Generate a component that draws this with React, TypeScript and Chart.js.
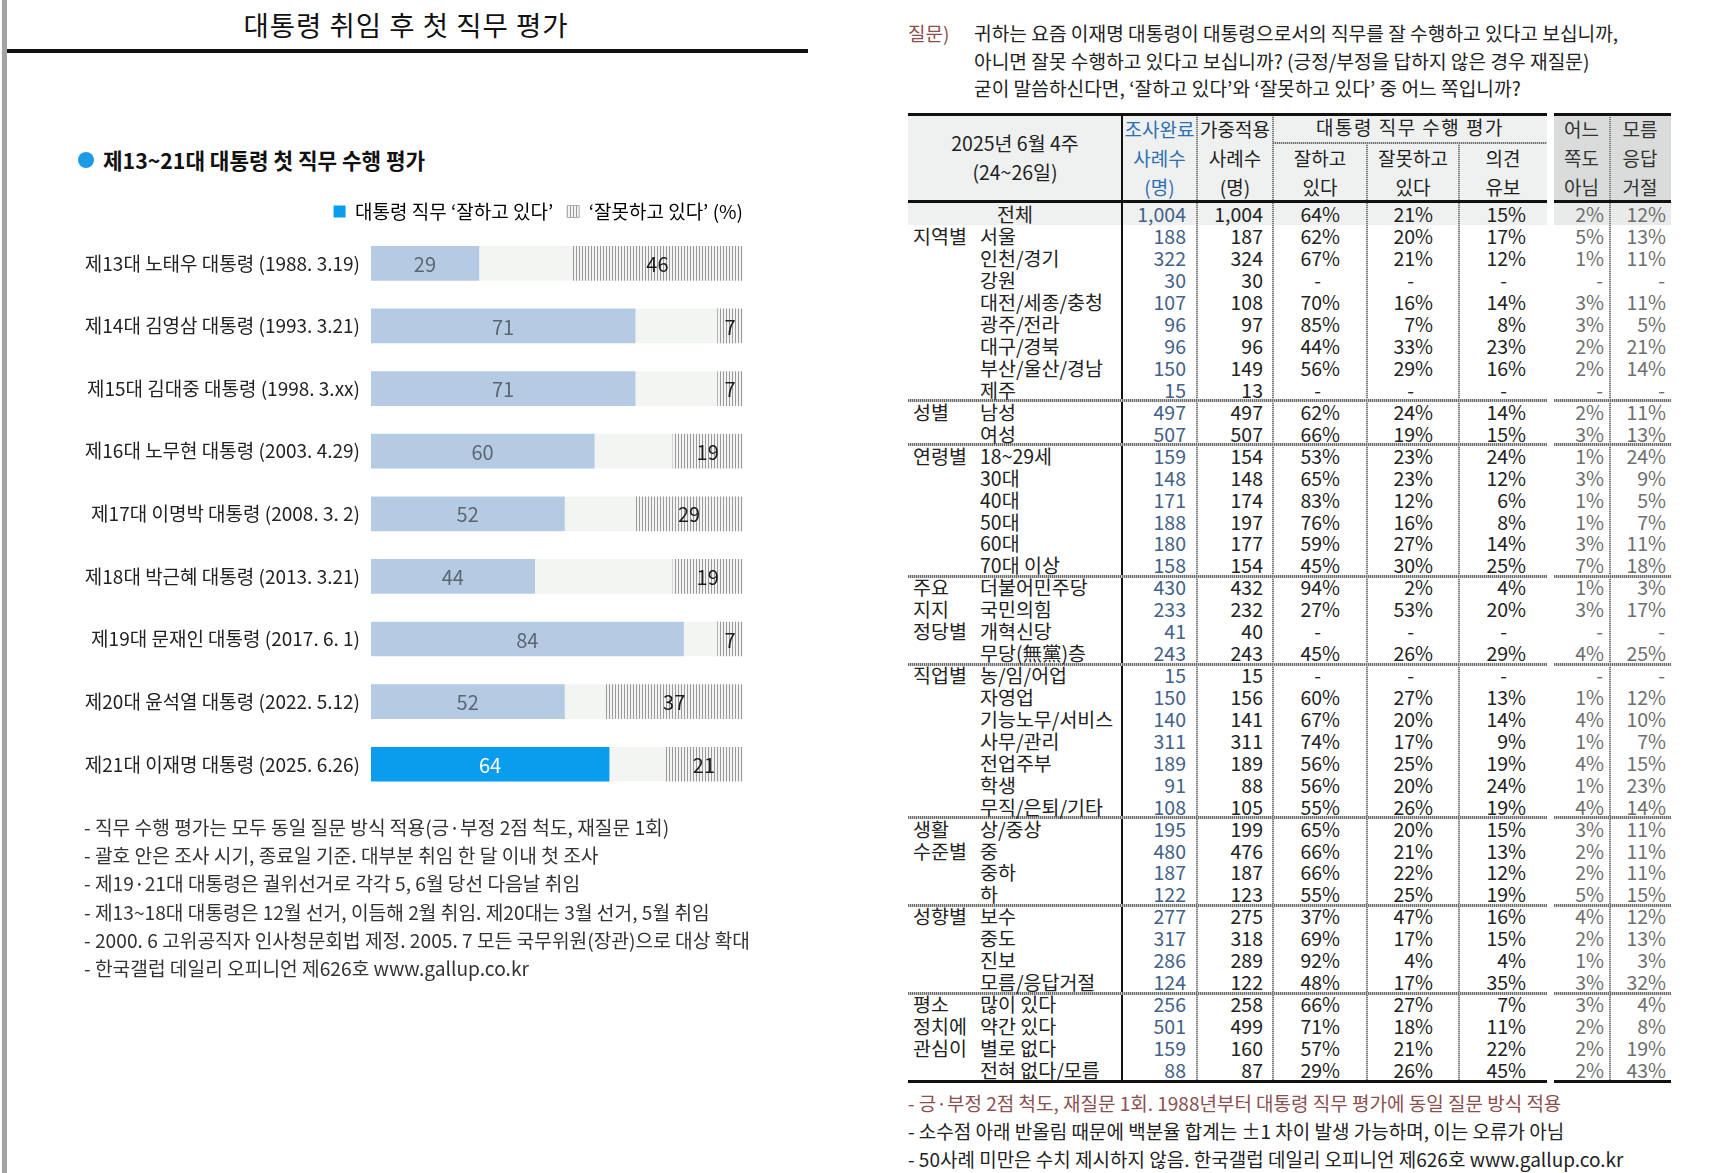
import React, { useEffect, useRef } from 'react';
import { Chart, registerables } from 'chart.js';

Chart.register(...registerables);

const FONT = '"Noto Sans CJK KR", "Noto Sans", sans-serif';

// ---- Chart data: first job-approval rating of each president ----
const presidents = [
  '제13대 노태우 대통령 (1988. 3.19)',
  '제14대 김영삼 대통령 (1993. 3.21)',
  '제15대 김대중 대통령 (1998. 3.xx)',
  '제16대 노무현 대통령 (2003. 4.29)',
  '제17대 이명박 대통령 (2008. 3. 2)',
  '제18대 박근혜 대통령 (2013. 3.21)',
  '제19대 문재인 대통령 (2017. 6. 1)',
  '제20대 윤석열 대통령 (2022. 5.12)',
  '제21대 이재명 대통령 (2025. 6.26)',
];
const approve = [29, 71, 71, 60, 52, 44, 84, 52, 64];
const disapprove = [46, 7, 7, 19, 29, 19, 7, 37, 21];

const notes = [
  '- 직무 수행 평가는 모두 동일 질문 방식 적용(긍·부정 2점 척도, 재질문 1회)',
  '- 괄호 안은 조사 시기, 종료일 기준. 대부분 취임 한 달 이내 첫 조사',
  '- 제19·21대 대통령은 궐위선거로 각각 5, 6월 당선 다음날 취임',
  '- 제13~18대 대통령은 12월 선거, 이듬해 2월 취임. 제20대는 3월 선거, 5월 취임',
  '- 2000. 6 고위공직자 인사청문회법 제정. 2005. 7 모든 국무위원(장관)으로 대상 확대',
  '- 한국갤럽 데일리 오피니언 제626호 www.gallup.co.kr',
];

// ---- Table data: 2025년 6월 4주 ----
const questionLines = [
  '귀하는 요즘 이재명 대통령이 대통령으로서의 직무를 잘 수행하고 있다고 보십니까,',
  '아니면 잘못 수행하고 있다고 보십니까? (긍정/부정을 답하지 않은 경우 재질문)',
  '굳이 말씀하신다면, ‘잘하고 있다’와 ‘잘못하고 있다’ 중 어느 쪽입니까?',
];
const totalRow = [1004, 1004, 64, 21, 15, 2, 12];
const groupLabels = [
  ['지역별'],
  ['성별'],
  ['연령별'],
  ['주요', '지지', '정당별'],
  ['직업별'],
  ['생활', '수준별'],
  ['성향별'],
  ['평소', '정치에', '관심이'],
];
const groupSizes = [8, 2, 6, 4, 7, 4, 4, 4];
const rowLabels = [
  '서울', '인천/경기', '강원', '대전/세종/충청', '광주/전라', '대구/경북', '부산/울산/경남', '제주',
  '남성', '여성',
  '18~29세', '30대', '40대', '50대', '60대', '70대 이상',
  '더불어민주당', '국민의힘', '개혁신당', '무당(無黨)층',
  '농/임/어업', '자영업', '기능노무/서비스', '사무/관리', '전업주부', '학생', '무직/은퇴/기타',
  '상/중상', '중', '중하', '하',
  '보수', '중도', '진보', '모름/응답거절',
  '많이 있다', '약간 있다', '별로 없다', '전혀 없다/모름',
];
const surveyN = [188, 322, 30, 107, 96, 96, 150, 15, 497, 507, 159, 148, 171, 188, 180, 158, 430, 233, 41, 243, 15, 150, 140, 311, 189, 91, 108, 195, 480, 187, 122, 277, 317, 286, 124, 256, 501, 159, 88];
const weightedN = [187, 324, 30, 108, 97, 96, 149, 13, 497, 507, 154, 148, 174, 197, 177, 154, 432, 232, 40, 243, 15, 156, 141, 311, 189, 88, 105, 199, 476, 187, 123, 275, 318, 289, 122, 258, 499, 160, 87];
const goodPct = [62, 67, null, 70, 85, 44, 56, null, 62, 66, 53, 65, 83, 76, 59, 45, 94, 27, null, 45, null, 60, 67, 74, 56, 56, 55, 65, 66, 66, 55, 37, 69, 92, 48, 66, 71, 57, 29];
const badPct = [20, 21, null, 16, 7, 33, 29, null, 24, 19, 23, 23, 12, 16, 27, 30, 2, 53, null, 26, null, 27, 20, 17, 25, 20, 26, 20, 21, 22, 25, 47, 17, 4, 17, 27, 18, 21, 26];
const reservedPct = [17, 12, null, 14, 8, 23, 16, null, 14, 15, 24, 12, 6, 8, 14, 25, 4, 20, null, 29, null, 13, 14, 9, 19, 24, 19, 15, 13, 12, 19, 16, 15, 4, 35, 7, 11, 22, 45];
const neitherPct = [5, 1, null, 3, 3, 2, 2, null, 2, 3, 1, 3, 1, 1, 3, 7, 1, 3, null, 4, null, 1, 4, 1, 4, 1, 4, 3, 2, 2, 5, 4, 2, 1, 3, 3, 2, 2, 2];
const refusedPct = [13, 11, null, 11, 5, 21, 14, null, 11, 13, 24, 9, 5, 7, 11, 18, 3, 17, null, 25, null, 12, 10, 7, 15, 23, 14, 11, 11, 11, 15, 12, 13, 3, 32, 4, 8, 19, 43];
const tableNotes = [
  '- 긍·부정 2점 척도, 재질문 1회. 1988년부터 대통령 직무 평가에 동일 질문 방식 적용',
  '- 소수점 아래 반올림 때문에 백분율 합계는 ±1 차이 발생 가능하며, 이는 오류가 아님',
  '- 50사례 미만은 수치 제시하지 않음. 한국갤럽 데일리 오피니언 제626호 www.gallup.co.kr',
];

const LIGHT_BLUE = '#b5cbe3';
const BRIGHT_BLUE = '#0a9ced';
const TRACK = '#f3f5f3';
const LEGEND_PAD = 14;
const CANVAS_TOP = 189;
const CANVAS_H = 629;

function makeHatch(ctx: CanvasRenderingContext2D): CanvasPattern | string {
  const c = document.createElement('canvas');
  c.width = 3;
  c.height = 4;
  const g = c.getContext('2d');
  if (!g) return '#cccccc';
  g.fillStyle = '#f4f4f4';
  g.fillRect(0, 0, 3, 4);
  g.fillStyle = '#9a9a9a';
  g.fillRect(0, 0, 1, 4);
  return ctx.createPattern(c, 'repeat') || '#cccccc';
}

const valueLabels = {
  id: 'valueLabels',
  afterDatasetsDraw(chart: any) {
    const ctx = chart.ctx as CanvasRenderingContext2D;
    const last = chart.data.labels.length - 1;
    ctx.save();
    ctx.font = `20px ${FONT}`;
    ctx.textAlign = 'center';
    ctx.textBaseline = 'middle';
    [0, 2].forEach((di) => {
      const meta = chart.getDatasetMeta(di);
      meta.data.forEach((bar: any, i: number) => {
        const v = chart.data.datasets[di].data[i];
        const p = bar.getCenterPoint();
        ctx.fillStyle = di === 0 ? (i === last ? '#ffffff' : '#5d6670') : '#1c1c1c';
        ctx.fillText(String(v), p.x, p.y + 1);
      });
    });
    ctx.restore();
  },
};

// nudges the legend row a little higher than its layout box
const legendLift = {
  id: 'legendLift',
  afterLayout(chart: any) {
    const lg = chart.legend;
    if (lg) {
      lg.top -= 1;
      lg.bottom -= 1;
    }
  },
};

function ApprovalChart() {
  const ref = useRef<HTMLCanvasElement | null>(null);
  useEffect(() => {
    const canvas = ref.current;
    if (!canvas) return;
    const ctx = canvas.getContext('2d');
    if (!ctx) return;
    const hatch = makeHatch(ctx);
    const last = presidents.length - 1;
    const chart = new Chart(ctx, {
      type: 'bar',
      data: {
        labels: presidents,
        datasets: [
          {
            label: '잘하고 있다',
            data: approve,
            backgroundColor: approve.map((_, i) => (i === last ? BRIGHT_BLUE : LIGHT_BLUE)),
            barThickness: 34,
            borderWidth: 0,
          },
          {
            label: '의견유보',
            data: approve.map((a, i) => 100 - a - disapprove[i]),
            backgroundColor: TRACK,
            barThickness: 34,
            borderWidth: 0,
          },
          {
            label: '잘못하고 있다',
            data: disapprove,
            backgroundColor: hatch as any,
            barThickness: 34,
            borderWidth: 0,
          },
        ],
      },
      options: {
        indexAxis: 'y',
        animation: false,
        responsive: false,
        maintainAspectRatio: false,
        layout: { padding: { top: 0, right: 57 - LEGEND_PAD, bottom: 7, left: 0 } },
        scales: {
          x: { stacked: true, min: 0, max: 100, display: false },
          y: {
            stacked: true,
            grid: { display: false, drawTicks: false },
            border: { display: false },
            ticks: { color: '#222', font: { family: FONT, size: 19 }, padding: 11 },
            afterFit: (scale: any) => {
              scale.width = 371;
            },
          },
          yGap: {
            type: 'category',
            position: 'right',
            grid: { display: false },
            border: { display: false },
            ticks: { display: false },
            afterFit: (scale: any) => {
              scale.width = LEGEND_PAD;
            },
          },
        },
        plugins: {
          tooltip: { enabled: false },
          legend: {
            position: 'top',
            align: 'end',
            labels: {
              boxWidth: 12,
              boxHeight: 12,
              padding: LEGEND_PAD,
              color: '#222',
              font: { family: FONT, size: 19 },
              generateLabels: () => [
                { text: '대통령 직무 ‘잘하고 있다’', fillStyle: BRIGHT_BLUE, strokeStyle: BRIGHT_BLUE, lineWidth: 0, hidden: false, datasetIndex: 0 } as any,
                { text: '‘잘못하고 있다’ (%)', fillStyle: hatch, strokeStyle: '#b0b0b0', lineWidth: 1, hidden: false, datasetIndex: 2 } as any,
              ],
            },
          },
        },
      },
      plugins: [valueLabels, legendLift],
    });
    return () => chart.destroy();
  }, []);
  return (
    <canvas
      ref={ref}
      width={800}
      height={CANVAS_H}
      style={{ position: 'absolute', left: 0, top: CANVAS_TOP, width: 800, height: CANVAS_H }}
    />
  );
}

// Table geometry
const T_LEFT = 908;
const T_MAIN_RIGHT = 1547;
const T_SIDE_LEFT = 1554;
const T_RIGHT = 1671;
const ROW0 = 225.5;
const ROWH = 21.93;
const TS = 19.5;
const DOTTED_V = 'repeating-linear-gradient(180deg, #7d7d7d 0 1px, #d2d2d2 1px 2px)';
const DOTTED_H = 'repeating-linear-gradient(90deg, #6e6e6e 0 1px, #c4c4c4 1px 2px)';

const fmtCount = (v: number) => v.toLocaleString('en-US');
const fmtPct = (v: number | null) => (v === null ? '-' : `${v}%`);

function Txt(props: { x: number; y: number; w?: number; align?: 'left' | 'right' | 'center'; color?: string; size?: number; bold?: boolean; spacing?: number; children: React.ReactNode }) {
  const { x, y, w, align = 'left', color = '#222', size = TS, bold = false, spacing = 0 } = props;
  const style: React.CSSProperties = {
    position: 'absolute',
    top: y - 13,
    height: 26,
    lineHeight: '26px',
    fontSize: size,
    color,
    whiteSpace: 'nowrap',
    fontWeight: bold ? 700 : 400,
    letterSpacing: spacing,
  };
  if (align === 'left') style.left = x;
  else if (align === 'right') style.right = 1733 - x;
  else {
    style.left = x - (w || 200) / 2;
    style.width = w || 200;
    style.textAlign = 'center';
  }
  return <div style={style}>{props.children}</div>;
}

function SurveyTable() {
  const els: React.ReactNode[] = [];
  const box = (key: string, l: number, t: number, w: number, h: number, bg: string) =>
    els.push(<div key={key} style={{ position: 'absolute', left: l, top: t, width: w, height: h, background: bg }} />);

  // header and total-row shading
  box('hdrMain', T_LEFT, 116, T_MAIN_RIGHT - T_LEFT, 86, '#eef1f0');
  box('hdrSide', T_SIDE_LEFT, 116, T_RIGHT - T_SIDE_LEFT, 86, '#d9dcda');
  box('totMain', T_LEFT, 203, T_MAIN_RIGHT - T_LEFT, 22, '#eef1ef');
  box('totSide', T_SIDE_LEFT, 203, T_RIGHT - T_SIDE_LEFT, 22, '#e8ebe9');

  // vertical rules
  const tableBottom = ROW0 + rowLabels.length * ROWH;
  [[1196, 115], [1272, 115], [1366, 143], [1458, 143], [1609, 115]].forEach(([x, t], i) =>
    box('v' + i, x, t, 2, tableBottom - t, DOTTED_V)
  );
  box('vThick', 1121, 115, 2, tableBottom - 115, '#111');
  box('hdrDot', 1273, 142, 274, 2, DOTTED_H);

  // horizontal rules
  box('topMain', T_LEFT, 113, T_MAIN_RIGHT - T_LEFT, 3, '#111');
  box('topSide', T_SIDE_LEFT, 113, T_RIGHT - T_SIDE_LEFT, 3, '#111');
  box('hdrMainB', T_LEFT, 200, T_MAIN_RIGHT - T_LEFT, 3, '#111');
  box('hdrSideB', T_SIDE_LEFT, 200, T_RIGHT - T_SIDE_LEFT, 3, '#111');
  box('botMain', T_LEFT, tableBottom - 1, T_MAIN_RIGHT - T_LEFT, 3, '#111');
  box('botSide', T_SIDE_LEFT, tableBottom - 1, T_RIGHT - T_SIDE_LEFT, 3, '#111');

  // group separators and group names
  let start = 0;
  groupSizes.forEach((n, g) => {
    if (g > 0) {
      const y = ROW0 + start * ROWH - 1.5;
      box('sepA' + g, T_LEFT, y, T_MAIN_RIGHT - T_LEFT, 3, DOTTED_H);
      box('sepB' + g, T_SIDE_LEFT, y, T_RIGHT - T_SIDE_LEFT, 3, DOTTED_H);
    }
    groupLabels[g].forEach((line, j) => {
      els.push(<Txt key={`g${g}-${j}`} x={913} y={ROW0 + (start + j) * ROWH + ROWH / 2}>{line}</Txt>);
    });
    start += n;
  });

  // header text
  const HY = [129, 158, 187];
  const center = (a: number, b: number) => (a + b) / 2;
  els.push(<Txt key="hd1" x={center(T_LEFT, 1122)} w={214} y={143} align="center">2025년 6월 4주</Txt>);
  els.push(<Txt key="hd2" x={center(T_LEFT, 1122)} w={214} y={172} align="center">(24~26일)</Txt>);
  const headCols: [number, number, string[], string][] = [
    [1122, 1197, ['조사완료', '사례수', '(명)'], '#2e6fb3'],
    [1197, 1273, ['가중적용', '사례수', '(명)'], '#222'],
    [1273, 1367, ['', '잘하고', '있다'], '#222'],
    [1367, 1459, ['', '잘못하고', '있다'], '#222'],
    [1459, 1547, ['', '의견', '유보'], '#222'],
    [1554, 1609, ['어느', '쪽도', '아님'], '#333'],
    [1609, 1671, ['모름', '응답', '거절'], '#333'],
  ];
  headCols.forEach(([a, b, lines, color], ci) =>
    lines.forEach((line, j) =>
      line
        ? els.push(<Txt key={`h${ci}-${j}`} x={center(a, b)} w={b - a + 10} y={HY[j]} align="center" color={color} size={19}>{line}</Txt>)
        : null
    )
  );
  els.push(<Txt key="hdEval" x={center(1273, 1547)} w={274} y={127} align="center" size={19} spacing={1.5}>대통령 직무 수행 평가</Txt>);

  // value columns: right edge, colour, extra inset for dashes
  const valueCols: [number, string, number][] = [
    [1186, '#42618a', 0],
    [1263, '#222', 0],
    [1340, '#222', 19],
    [1433, '#222', 19],
    [1526, '#222', 19],
    [1604, '#6e6e6e', 1],
    [1666, '#6e6e6e', 1],
  ];
  const colText = (ci: number, v: number | null) => (ci < 2 ? fmtCount(v as number) : fmtPct(v));

  // total row
  els.push(<Txt key="totLabel" x={center(T_LEFT, 1122)} w={214} y={214} align="center">전체</Txt>);
  totalRow.forEach((v, ci) =>
    els.push(<Txt key={`t${ci}`} x={valueCols[ci][0]} y={214} align="right" color={valueCols[ci][1]}>{colText(ci, v)}</Txt>)
  );

  // body rows
  const columns = [surveyN, weightedN, goodPct, badPct, reservedPct, neitherPct, refusedPct];
  rowLabels.forEach((label, r) => {
    const y = ROW0 + r * ROWH + ROWH / 2;
    els.push(<Txt key={`l${r}`} x={980} y={y}>{label}</Txt>);
    columns.forEach((col, ci) => {
      const v = col[r];
      const inset = v === null ? valueCols[ci][2] : 0;
      els.push(
        <Txt key={`c${r}-${ci}`} x={valueCols[ci][0] - inset} y={y} align="right" color={valueCols[ci][1]}>
          {colText(ci, v)}
        </Txt>
      );
    });
  });

  return <>{els}</>;
}

export default function App() {
  useEffect(() => {
    document.body.style.margin = '0';
  }, []);
  return (
    <div style={{ position: 'relative', width: 1733, height: 1173, overflow: 'hidden', background: '#fff', fontFamily: FONT }}>
      {/* left edge rule */}
      <div style={{ position: 'absolute', left: 2, top: 0, width: 5, height: 1173, background: '#a3a3a3' }} />

      {/* left panel */}
      <div style={{ position: 'absolute', left: 0, top: 7, width: 812, textAlign: 'center', fontSize: 27.5, lineHeight: '34px', color: '#111', letterSpacing: 1 }}>
        대통령 취임 후 첫 직무 평가
      </div>
      <div style={{ position: 'absolute', left: 7, top: 49, width: 801, height: 4, background: '#111' }} />
      <div style={{ position: 'absolute', left: 78, top: 152, width: 16, height: 16, borderRadius: 8, background: '#1b9be6' }} />
      <Txt x={103} y={160} size={21.3} bold color="#111">제13~21대 대통령 첫 직무 수행 평가</Txt>
      <ApprovalChart />
      {notes.map((n, i) => (
        <Txt key={'n' + i} x={84} y={827 + i * 28.2} size={19.2} color="#333">{n}</Txt>
      ))}

      {/* right panel */}
      <Txt x={908} y={33} size={19} color="#8c4f4f">질문)</Txt>
      {questionLines.map((q, i) => (
        <Txt key={'q' + i} x={974} y={33 + i * 27.7} size={19.2} color="#222">{q}</Txt>
      ))}
      <SurveyTable />
      {tableNotes.map((n, i) => (
        <Txt key={'tn' + i} x={908} y={1103 + i * 28} size={19} color={i === 0 ? '#8c4f4f' : '#222'}>{n}</Txt>
      ))}
    </div>
  );
}
